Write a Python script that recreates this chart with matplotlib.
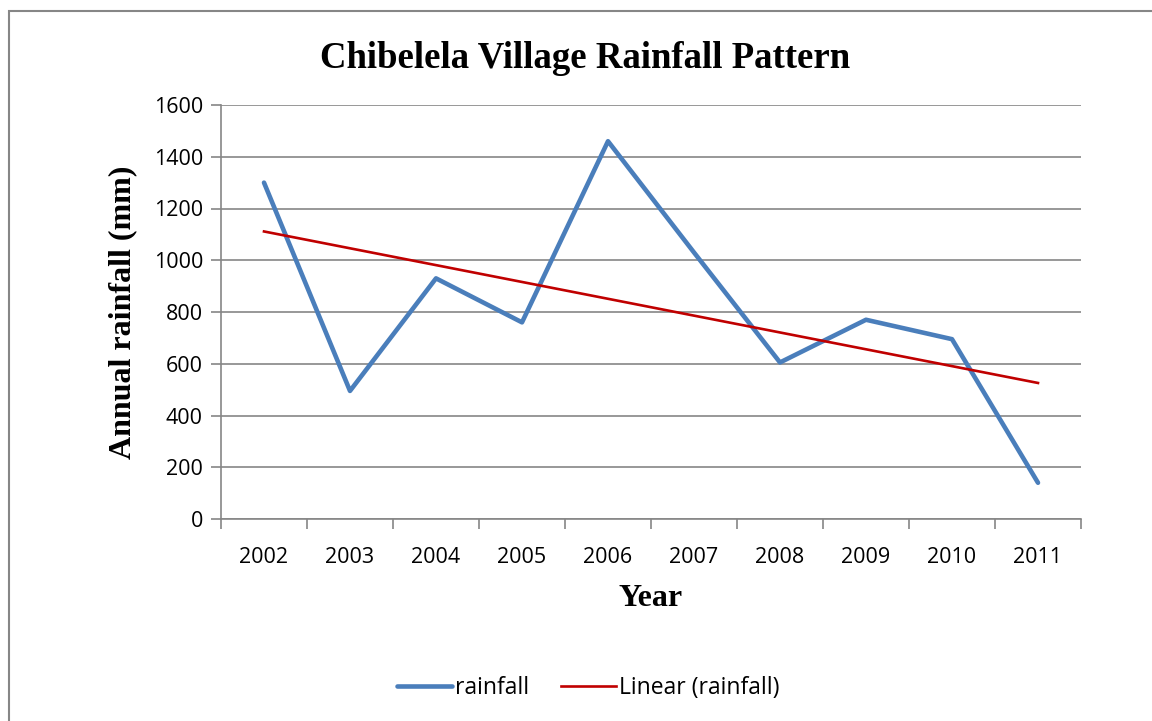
import numpy as np
import matplotlib
matplotlib.use("Agg")
import matplotlib.pyplot as plt
from matplotlib.patches import Rectangle

# data
years = ["2002", "2003", "2004", "2005", "2006", "2007", "2008", "2009", "2010", "2011"]
rainfall = [1300, 495, 930, 760, 1460, 1030, 605, 770, 695, 140]
y_ticks = [0, 200, 400, 600, 800, 1000, 1200, 1400, 1600]

x = np.arange(len(years))
# linear trend line (same as Excel "Linear (rainfall)")
slope, intercept = np.polyfit(x, rainfall, 1)
trend = slope * x + intercept

fig = plt.figure(figsize=(11.52, 7.21), dpi=100)
ax = fig.add_axes([221 / 1152, 1 - 519 / 721, 860 / 1152, 414 / 721])

grid_col = "#868686"
serif = "Liberation Serif"
sans = "Open Sans"

# outer chart border
fig.patches.append(Rectangle((9 / 1152, -0.01), 1.0, 1 - 11 / 721 + 0.01,
                             transform=fig.transFigure, fill=False,
                             edgecolor=grid_col, linewidth=1.5))

ax.plot(x, rainfall, color="#4A7EBB", linewidth=3.3, solid_capstyle="round",
        solid_joinstyle="round", label="rainfall", zorder=3)
ax.plot(x, trend, color="#C00000", linewidth=1.9, label="Linear (rainfall)", zorder=4)

ax.set_xlim(-0.5, len(years) - 0.5)
ax.set_ylim(0, 1600)
ax.set_yticks(y_ticks)
ax.set_yticklabels([str(v) for v in y_ticks], fontsize=15.5, family=sans)
ax.yaxis.grid(True, color=grid_col, linewidth=1.2)
ax.set_axisbelow(True)

ax.set_xticks(x)
ax.set_xticklabels(years, fontsize=15.5, family=sans)
ax.set_xticks(np.arange(-0.5, len(years), 1.0), minor=True)
ax.tick_params(axis="x", which="major", length=0, pad=20)
ax.tick_params(axis="x", which="minor", length=7, width=1.2, color=grid_col, direction="out")
ax.tick_params(axis="y", length=7, width=1.2, color=grid_col, direction="out", pad=6)

for side in ["top", "right"]:
    ax.spines[side].set_visible(False)
for side in ["left", "bottom"]:
    ax.spines[side].set_color(grid_col)
    ax.spines[side].set_linewidth(1.2)

fig.text(585 / 1152, 1 - 58 / 721, "Chibelela Village Rainfall Pattern", fontsize=26.5,
         fontweight="bold", family=serif, ha="center", va="center")
ax.set_xlabel("Year", fontsize=23, fontweight="bold", family=serif, labelpad=12)
ax.set_ylabel("Annual rainfall (mm)", fontsize=23, fontweight="bold", family=serif, labelpad=12)

leg = fig.legend(loc="center", bbox_to_anchor=(588 / 1152, 1 - 688 / 721), ncol=2,
                 frameon=False, prop={"family": sans, "size": 16.5},
                 handlelength=2.4, handletextpad=0.12, columnspacing=1.4)

fig.savefig("out.png", dpi=100)
